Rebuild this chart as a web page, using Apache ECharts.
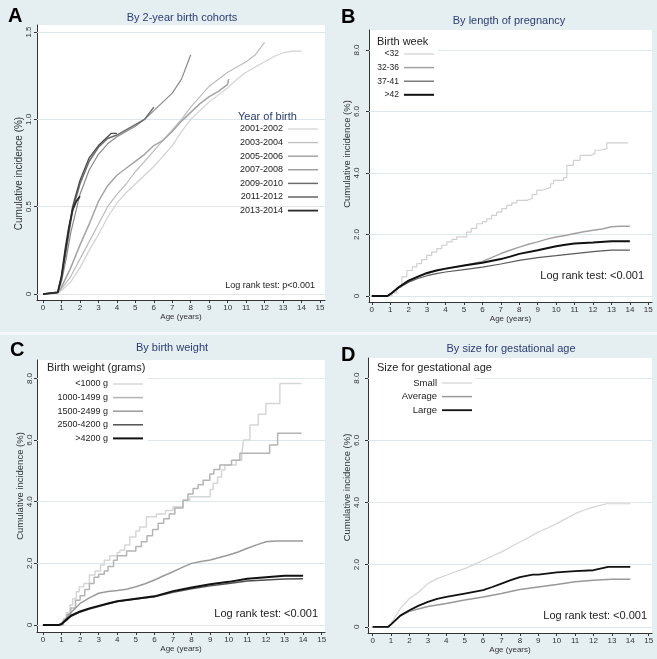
<!DOCTYPE html>
<html>
<head>
<meta charset="utf-8">
<script src="https://cdn.jsdelivr.net/npm/echarts@6/dist/echarts.min.js"></script>
<style>
  html, body { margin: 0; padding: 0; background: #e5eef1; }
  #chart { width: 657px; height: 659px; }
</style>
</head>
<body>
<div id="chart"></div>
<script>
// ---- data: [age (years), cumulative incidence (%)] ----
// A: by 2-year birth cohort
const yob2001 = [[0,0],[0.8,0.005],[1,0.02],[1.5,0.07],[2,0.15],[2.5,0.25],[3,0.34],[3.5,0.44],[4,0.52],[4.5,0.58],[5,0.63],[5.5,0.68],[6,0.73],[6.5,0.79],[7,0.85],[7.5,0.93],[8,1.0],[8.5,1.05],[9,1.1],[9.5,1.14],[10,1.18],[10.5,1.23],[11,1.27],[11.5,1.3],[12,1.33],[12.5,1.36],[13,1.38],[13.5,1.39],[14,1.39]];
const yob2003 = [[0,0],[0.8,0.005],[1,0.03],[1.5,0.1],[2,0.2],[2.5,0.3],[3,0.4],[3.5,0.5],[4,0.57],[4.5,0.63],[5,0.7],[5.5,0.76],[6,0.82],[6.5,0.88],[7,0.94],[7.5,1.0],[8,1.07],[8.5,1.13],[9,1.19],[9.5,1.23],[10,1.27],[10.5,1.3],[11,1.33],[11.5,1.37],[12,1.44]];
const yob2005 = [[0,0],[0.8,0.01],[1,0.04],[1.5,0.15],[2,0.28],[2.5,0.4],[3,0.53],[3.5,0.62],[4,0.68],[4.5,0.72],[5,0.76],[5.5,0.8],[6,0.85],[6.5,0.88],[7,0.93],[7.5,0.99],[8,1.04],[8.5,1.09],[9,1.13],[9.5,1.16],[10,1.2],[10.05,1.23]];
const yob2007 = [[0,0],[0.8,0.01],[1,0.07],[1.25,0.2],[1.5,0.35],[2,0.57],[2.5,0.71],[3,0.8],[3.5,0.86],[4,0.9],[4.5,0.93],[5,0.96],[5.5,1.0],[6,1.05],[6.5,1.1],[7,1.15],[7.5,1.23],[7.75,1.3],[8,1.37]];
const yob2009 = [[0,0],[0.8,0.01],[1,0.09],[1.3,0.28],[1.6,0.48],[2,0.63],[2.5,0.76],[3,0.84],[3.5,0.89],[4,0.91],[4.5,0.94],[5,0.97],[5.5,1.0],[6,1.07]];
const yob2011 = [[0,0],[0.8,0.01],[1,0.1],[1.3,0.3],[1.6,0.5],[2,0.65],[2.5,0.78],[3,0.85],[3.5,0.9],[3.7,0.92],[4,0.92]];
const yob2013 = [[0,0],[0.8,0.01],[1,0.1],[1.2,0.25],[1.4,0.38],[1.6,0.48],[1.8,0.53],[2,0.56]];

// B: by length of pregnancy (birth week)
const wk32 = [[0,0],[0.9,0],[1.1,0.1],[1.36,0.29],[1.63,0.62],[1.9,0.83],[2.2,0.95],[2.44,1.05],[2.7,1.18],[2.98,1.32],[3.25,1.43],[3.53,1.54],[3.8,1.65],[4.07,1.76],[4.35,1.84],[4.61,1.92],[5.15,2.08],[5.4,2.2],[5.7,2.35],[6.0,2.42],[6.24,2.51],[6.5,2.62],[6.78,2.73],[7.05,2.84],[7.32,2.95],[7.6,3.03],[7.87,3.11],[8.41,3.17],[8.7,3.3],[8.95,3.44],[9.2,3.48],[9.49,3.54],[9.7,3.65],[9.86,3.76],[10.4,3.85],[10.58,4.25],[10.94,4.41],[11.3,4.57],[11.84,4.63],[12.1,4.74],[12.4,4.79],[12.75,4.98],[13.9,4.98]];
const wk3236 = [[0,0],[0.85,0],[1,0.06],[1.5,0.3],[2,0.5],[2.5,0.62],[3,0.73],[3.5,0.82],[4,0.88],[5,0.99],[6,1.12],[6.5,1.25],[7,1.38],[7.5,1.49],[8,1.59],[8.5,1.68],[9,1.76],[9.5,1.85],[10,1.92],[10.5,1.97],[11,2.03],[11.5,2.09],[12,2.14],[12.5,2.18],[13,2.25],[13.5,2.27],[14,2.27]];
const wk3741 = [[0,0],[0.85,0],[1,0.05],[1.5,0.28],[2,0.45],[2.5,0.57],[3,0.66],[3.5,0.73],[4,0.78],[5,0.86],[6,0.94],[7,1.04],[8,1.16],[9,1.25],[10,1.31],[11,1.38],[12,1.44],[13,1.49],[14,1.49]];
const wk42 = [[0,0],[0.85,0],[1,0.06],[1.5,0.3],[2,0.5],[2.5,0.63],[3,0.75],[3.5,0.83],[4,0.89],[5,0.99],[6,1.08],[7,1.2],[7.5,1.28],[8,1.37],[9,1.49],[10,1.62],[10.5,1.67],[11,1.71],[12,1.74],[13,1.78],[14,1.78]];

// C: by birth weight
const bw1000 = [[0,0],[0.9,0],[1.1,0.2],[1.25,0.4],[1.45,0.65],[1.6,0.85],[1.8,1.08],[1.95,1.24],[2.2,1.35],[2.5,1.62],[2.8,1.75],[3.1,1.95],[3.3,2.1],[3.6,2.25],[4.0,2.35],[4.14,2.43],[4.4,2.6],[4.67,2.86],[5.0,3.05],[5.2,3.18],[5.57,3.51],[6.1,3.6],[6.6,3.72],[7.0,3.84],[7.54,4.05],[7.9,4.16],[9.0,4.4],[9.16,4.6],[9.4,4.8],[9.61,5.03],[9.79,5.19],[10.4,5.35],[10.7,5.57],[10.8,6.0],[11.14,6.49],[11.59,6.84],[12.0,7.19],[12.75,7.84],[13.92,7.84]];
const bw1499 = [[0,0],[0.9,0],[1.1,0.15],[1.3,0.35],[1.5,0.55],[1.75,0.8],[2,0.95],[2.25,1.15],[2.5,1.35],[2.75,1.55],[3,1.65],[3.3,1.75],[3.5,1.9],[3.8,2.1],[4,2.25],[4.5,2.4],[5,2.55],[5.3,2.7],[5.6,2.9],[5.9,3.1],[6.2,3.3],[6.5,3.45],[6.8,3.6],[7.1,3.8],[7.54,4.05],[7.8,4.25],[8.08,4.43],[8.35,4.55],[8.62,4.7],[8.98,4.9],[9.2,5.05],[9.52,5.19],[10.15,5.35],[10.6,5.57],[12.2,5.84],[12.63,6.22],[13.92,6.22]];
const bw2499 = [[0,0],[0.85,0],[1,0.05],[1.5,0.4],[2,0.7],[2.5,0.88],[3,1.03],[3.5,1.09],[4,1.12],[4.5,1.16],[5,1.24],[5.5,1.34],[6,1.46],[6.5,1.6],[7,1.73],[7.5,1.87],[8,2.0],[8.5,2.06],[9,2.11],[9.5,2.19],[10,2.27],[10.5,2.37],[11,2.49],[11.5,2.6],[12,2.7],[12.5,2.73],[14,2.73]];
const bw4200 = [[0,0],[0.85,0],[1,0.03],[1.5,0.28],[2,0.42],[2.5,0.52],[3,0.6],[3.5,0.69],[4,0.76],[5,0.84],[6,0.92],[7,1.06],[8,1.18],[9,1.27],[10,1.35],[11,1.43],[12,1.46],[13,1.49],[14,1.5]];
const bwOver = [[0,0],[0.85,0],[1,0.03],[1.5,0.3],[2,0.44],[2.5,0.54],[3,0.62],[3.5,0.7],[4,0.77],[5,0.85],[6,0.93],[7,1.1],[8,1.22],[9,1.32],[10,1.4],[11,1.5],[12,1.55],[13,1.6],[14,1.6]];

// D: by size for gestational age
const sgaSmall = [[0,0],[0.85,0],[1,0.1],[1.5,0.59],[2,0.91],[2.5,1.12],[3,1.39],[3.5,1.55],[4,1.66],[4.5,1.77],[5,1.87],[5.5,2.0],[6,2.14],[6.5,2.28],[7,2.41],[7.5,2.57],[8,2.73],[8.5,2.88],[9,3.05],[9.5,3.18],[10,3.32],[10.5,3.48],[11,3.64],[11.5,3.76],[12,3.85],[12.7,3.96],[14,3.96]];
const sgaAverage = [[0,0],[0.85,0],[1,0.08],[1.5,0.35],[2,0.5],[3,0.65],[4,0.75],[5,0.86],[6,0.96],[7,1.07],[8,1.2],[9,1.28],[10,1.36],[11,1.45],[12,1.5],[13,1.53],[14,1.53]];
const sgaLarge = [[0,0],[0.85,0],[1,0.08],[1.5,0.36],[2,0.53],[2.5,0.68],[3,0.8],[3.5,0.9],[4,0.96],[5,1.07],[6,1.18],[6.5,1.28],[7,1.39],[7.5,1.5],[8,1.6],[8.7,1.68],[9,1.68],[10,1.75],[11,1.79],[12,1.82],[12.8,1.93],[14,1.93]];

// tick labels
const ageTicks = [0,1,2,3,4,5,6,7,8,9,10,11,12,13,14,15];
const ticksA = [0, 0.5, 1, 1.5];
const ticksBCD = [0, 2, 4, 6, 8];

const FONT = '"Liberation Sans", Arial, sans-serif';
const NAVY = '#2b3c70';
const GRIDLINE = '#dbe7eb';

// plot rectangles per panel (Stata-like plot regions)
const panels = [
  { left: 37, top: 25, width: 288, height: 275, xMin: -0.325, xMax: 15.27, yMin: -0.034, yMax: 1.54,
    ticks: ticksA, fmt: v => v === 0 ? '0' : v.toFixed(1), labMargin: 4, nameGap: 11, namePad: [0, 22, 0, 0], nameSize: 10 },
  { left: 369, top: 30, width: 283, height: 272, xMin: -0.15, xMax: 15.2, yMin: -0.195, yMax: 8.65,
    ticks: ticksBCD, fmt: v => v === 0 ? '0' : v.toFixed(1), labMargin: 8, nameGap: 15, namePad: [0, 0, 0, 24], nameSize: 9.5 },
  { left: 37, top: 360, width: 288, height: 272, xMin: -0.32, xMax: 15.18, yMin: -0.227, yMax: 8.6,
    ticks: ticksBCD, fmt: v => v === 0 ? '0' : v.toFixed(1), labMargin: 3, nameGap: 11, namePad: [0, 0, 0, 20], nameSize: 9.5 },
  { left: 368, top: 358, width: 284, height: 275, xMin: -0.255, xMax: 15.18, yMin: -0.2, yMax: 8.65,
    ticks: ticksBCD, fmt: v => v === 0 ? '0' : v.toFixed(1), labMargin: 7, nameGap: 14, namePad: [0, 0, 0, 16], nameSize: 9.5 }
];

function curve(name, data, color, width, panel, step) {
  return {
    name: name, type: 'line', xAxisIndex: panel, yAxisIndex: panel, data: data,
    step: step ? 'end' : false, symbol: 'none', showSymbol: false, silent: true, z: 3,
    lineStyle: { color: color, width: width }, itemStyle: { color: color }
  };
}

const seriesDefs = [
  // panel, name, data, color, width, step
  [0, '2001-2002', yob2001, '#d2d2d2', 1.2],
  [0, '2003-2004', yob2003, '#bcbcbc', 1.2],
  [0, '2005-2006', yob2005, '#a4a4a4', 1.5],
  [0, '2007-2008', yob2007, '#8a8a8a', 1.2],
  [0, '2009-2010', yob2009, '#6c6c6c', 1.5],
  [0, '2011-2012', yob2011, '#4a4a4a', 1.3],
  [0, '2013-2014', yob2013, '#2a2a2a', 1.8],
  [1, '<32', wk32, '#d0d0d0', 1.2, true],
  [1, '32-36', wk3236, '#a2a2a2', 1.5],
  [1, '37-41', wk3741, '#5a5a5a', 1.2],
  [1, '>42', wk42, '#111111', 2],
  [2, '<1000 g', bw1000, '#d6d6d6', 1.5, true],
  [2, '1000-1499 g', bw1499, '#b4b4b4', 1.5, true],
  [2, '1500-2499 g', bw2499, '#9a9a9a', 1.5],
  [2, '2500-4200 g', bw4200, '#505050', 1.5],
  [2, '>4200 g', bwOver, '#111111', 2],
  [3, 'Small', sgaSmall, '#d4d4d4', 1.2],
  [3, 'Average', sgaAverage, '#999999', 1.5],
  [3, 'Large', sgaLarge, '#111111', 1.8]
];

const series = [];
panels.forEach((p, i) => {
  // horizontal grid lines at the labelled y ticks
  series.push({
    type: 'line', xAxisIndex: i, yAxisIndex: i, data: [], silent: true, z: 1,
    markLine: {
      silent: true, symbol: 'none', label: { show: false }, animation: false, z: 1,
      lineStyle: { color: GRIDLINE, width: 1, type: 'solid' },
      data: p.ticks.map(v => ({ yAxis: v }))
    }
  });
});
seriesDefs.forEach(d => series.push(curve(d[1], d[2], d[3], d[4], d[0], d[5])));

// legend key: a flat bar as thick as the series line
function lineIcon(w) {
  return 'path://M0,0H60V' + (w * 2) + 'H0Z';
}

function legendFor(panel, left, top, textWidth, fontSize) {
  return {
    orient: 'vertical', left: left, top: top, padding: 0, align: 'right', z: 6,
    itemWidth: 30, itemHeight: 8, itemGap: 1.6, selectedMode: false,
    textStyle: { fontFamily: FONT, fontSize: fontSize, color: '#222', width: textWidth, lineHeight: 12 },
    data: seriesDefs.filter(d => d[0] === panel).map(d => ({ name: d[1], icon: lineIcon(d[4]) }))
  };
}

function text(x, y, str, size, color, align, weight) {
  return {
    type: 'text', x: x, y: y, silent: true, z: 10,
    style: { text: str, fontFamily: FONT, fontSize: size, fontWeight: weight || 'normal',
      fill: color, align: align || 'left', verticalAlign: 'middle' }
  };
}

function whiteBox(x, y, w, h) {
  return { type: 'rect', shape: { x: x, y: y, width: w, height: h }, style: { fill: '#ffffff' }, silent: true, z: 2 };
}

const option = {
  animation: false,
  backgroundColor: '#e5eef1',
  grid: panels.map(p => ({ left: p.left, top: p.top, width: p.width, height: p.height,
    show: true, backgroundColor: '#ffffff', borderWidth: 0 })),
  xAxis: panels.map((p, i) => ({
    type: 'value', gridIndex: i, min: p.xMin, max: p.xMax,
    name: 'Age (years)', nameLocation: 'middle', nameGap: 11,
    nameTextStyle: { fontFamily: FONT, fontSize: 8, color: '#333' },
    axisLine: { show: true, onZero: false, lineStyle: { color: '#333', width: 1 } },
    axisTick: { show: true, length: 3, customValues: ageTicks, lineStyle: { color: '#333' } },
    axisLabel: { customValues: ageTicks, margin: 4, fontFamily: FONT, fontSize: 8, color: '#333' },
    splitLine: { show: false }
  })),
  yAxis: panels.map((p, i) => ({
    type: 'value', gridIndex: i, min: p.yMin, max: p.yMax,
    name: 'Cumulative incidence (%)', nameLocation: 'middle', nameGap: p.nameGap,
    nameTextStyle: { fontFamily: FONT, fontSize: p.nameSize, color: '#333', padding: p.namePad },
    axisLine: { show: true, onZero: false, lineStyle: { color: '#333', width: 1 } },
    axisTick: { show: true, length: 3, customValues: p.ticks, lineStyle: { color: '#333' } },
    axisLabel: { customValues: p.ticks, formatter: p.fmt, rotate: 90, margin: p.labMargin,
      fontFamily: FONT, fontSize: 8, color: '#333' },
    splitLine: { show: false }
  })),
  legend: [
    legendFor(0, 238, 123, 45, 9),
    legendFor(1, 359, 48, 40, 8.5),
    legendFor(2, 48, 378, 60, 9),
    legendFor(3, 387, 377, 50, 9.5)
  ],
  graphic: [
    { type: 'rect', shape: { x: 0, y: 332, width: 657, height: 3 }, style: { fill: '#f4f8f9' }, silent: true },
    whiteBox(370, 31, 68, 72),
    whiteBox(38, 361, 110, 84),
    whiteBox(369, 359, 106, 60),
    text(8, 16, 'A', 20, '#000', 'left', 'bold'),
    text(341, 17, 'B', 20, '#000', 'left', 'bold'),
    text(10, 350, 'C', 20, '#000', 'left', 'bold'),
    text(341, 355, 'D', 20, '#000', 'left', 'bold'),
    text(182, 18, 'By 2-year birth cohorts', 11, NAVY, 'center'),
    text(509, 21, 'By length of pregnancy', 11, NAVY, 'center'),
    text(172, 348, 'By birth weight', 11, NAVY, 'center'),
    text(511, 349, 'By size for gestational age', 11, NAVY, 'center'),
    text(238, 117, 'Year of birth', 11, NAVY, 'left'),
    text(377, 42, 'Birth week', 11, '#222', 'left'),
    text(47, 368, 'Birth weight (grams)', 11, '#222', 'left'),
    text(377, 368, 'Size for gestational age', 11, '#222', 'left'),
    text(315, 286, 'Log rank test: p<0.001', 9, '#222', 'right'),
    text(644, 276, 'Log rank test: <0.001', 11, '#222', 'right'),
    text(318, 614, 'Log rank test: <0.001', 11, '#222', 'right'),
    text(647, 616, 'Log rank test: <0.001', 11, '#222', 'right')
  ],
  series: series
};

const chart = echarts.init(document.getElementById('chart'));
chart.setOption(option);
</script>
</body>
</html>
